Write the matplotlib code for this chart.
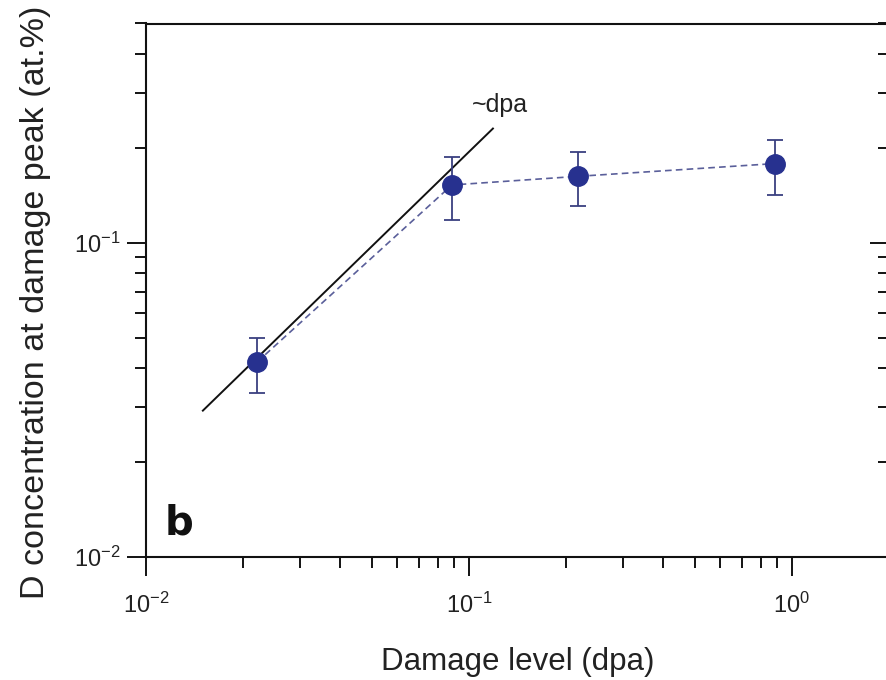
import numpy as np
import matplotlib.pyplot as plt
from matplotlib.ticker import LogLocator, NullFormatter, FixedLocator

plt.rcParams['font.family'] = ['Liberation Sans', 'DejaVu Sans']
plt.rcParams['mathtext.fontset'] = 'custom'
plt.rcParams['mathtext.rm'] = 'Liberation Sans'
plt.rcParams['mathtext.it'] = 'Liberation Sans'

# D concentration vs damage level
dpa = [0.0221, 0.0886, 0.217, 0.886]
conc = [0.0418, 0.153, 0.163, 0.179]
err_lo = [0.0333, 0.118, 0.131, 0.142]
err_hi = [0.0498, 0.188, 0.195, 0.213]

# linear guide ~dpa
fit_x = [0.015, 0.1187]
fit_k = 1.95

navy = '#27318f'
txt = '#222222'

fig = plt.figure(figsize=(8.87, 6.8), dpi=100)
ax = fig.add_axes([146/887, 1-557/680, (889-146)/887, (557-23.5)/680])
ax.set_xscale('log')
ax.set_yscale('log')
ax.set_xlim(0.01, 2)
ax.set_ylim(0.01, 0.5)

fx = np.array(fit_x)
ax.plot(fx, fit_k*fx, '-', color='#111111', lw=1.4, zorder=2)
ax.text(0.1021, 0.252, '~dpa', fontsize=18, color=txt, ha='left', va='bottom')

ax.plot(dpa, conc, '--', color='#5a5f9a', lw=1.2, dashes=(4, 2.5), zorder=3)
yerr = [np.array(conc)-np.array(err_lo), np.array(err_hi)-np.array(conc)]
ax.errorbar(dpa, conc, yerr=yerr, fmt='none', ecolor='#3a4080', elinewidth=1.3,
            capsize=6, capthick=1.3, zorder=4)
ax.plot(dpa, conc, 'o', color=navy, ms=14, mec=navy, zorder=5, ls='none')

ax.text(0.0114, 0.0118, 'b', fontsize=29, fontweight='bold', color='#111111',
        family='DejaVu Sans')

ax.xaxis.set_major_locator(FixedLocator([0.01, 0.1, 1]))
ax.xaxis.set_minor_locator(LogLocator(base=10, subs=np.arange(2, 10)))
ax.yaxis.set_major_locator(FixedLocator([0.01, 0.1]))
ax.yaxis.set_minor_locator(LogLocator(base=10, subs=np.arange(2, 10)))
ax.xaxis.set_minor_formatter(NullFormatter())
ax.yaxis.set_minor_formatter(NullFormatter())
ax.set_xticklabels(['10$^{-2}$', '10$^{-1}$', '10$^{0}$'])
ax.set_yticklabels(['10$^{-2}$', '10$^{-1}$'])

ax.tick_params(axis='x', which='both', top=False, direction='out', labelsize=17,
               labelcolor=txt, pad=12)
ax.tick_params(axis='y', which='both', left=True, right=False, direction='out',
               labelsize=17, labelcolor=txt, pad=4)
ax.tick_params(which='major', length=14, width=1.3)
ax.tick_params(which='minor', length=8, width=1.3)

# inward ticks on the right side
ax_r = ax.secondary_yaxis('right')
ax_r.yaxis.set_major_locator(FixedLocator([0.01, 0.1]))
ax_r.yaxis.set_minor_locator(LogLocator(base=10, subs=np.arange(2, 10)))
ax_r.yaxis.set_minor_formatter(NullFormatter())
ax_r.tick_params(which='both', direction='in', labelright=False, width=1.3)
ax_r.tick_params(which='major', length=14)
ax_r.tick_params(which='minor', length=8)
ax_r.spines['right'].set_linewidth(1.5)

for s in ax.spines.values():
    s.set_linewidth(1.5)
    s.set_color('#111111')

ax.set_xlabel('Damage level (dpa)', fontsize=22.5, color=txt, labelpad=21)
ax.set_ylabel('D concentration at damage peak (at.%)', fontsize=24.5, color=txt)
ax.yaxis.set_label_coords(-0.128, 0.478)

plt.savefig('out.png', dpi=100)
